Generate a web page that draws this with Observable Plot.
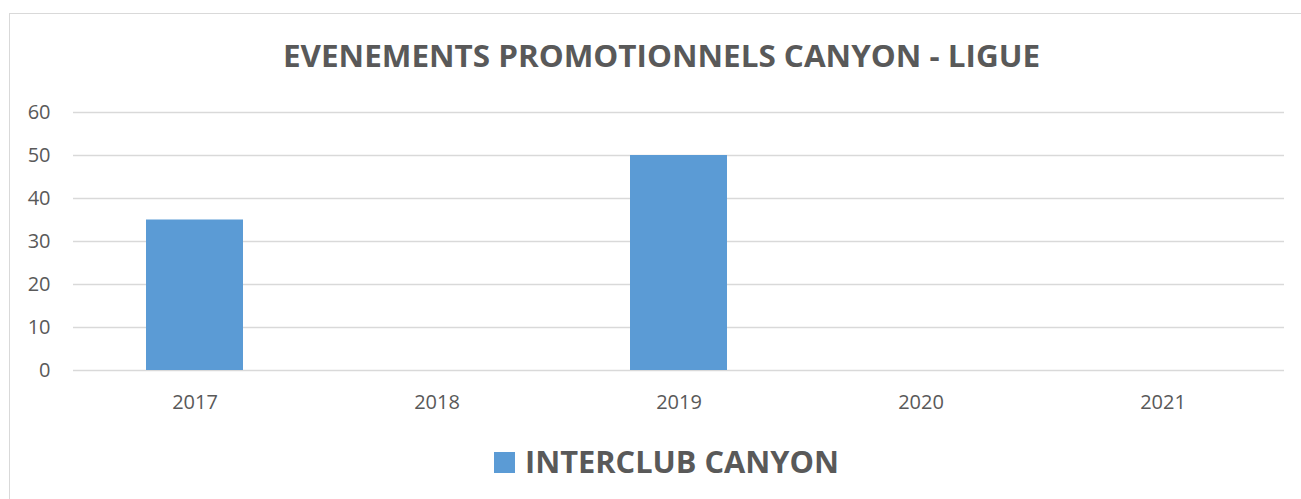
<!DOCTYPE html>
<html>
<head>
<meta charset="utf-8">
<script src="https://cdn.jsdelivr.net/npm/d3@7"></script>
<script src="https://cdn.jsdelivr.net/npm/@observablehq/plot@0.6"></script>
<style>
  html, body { margin: 0; padding: 0; background: #fff; }
  #frame { position: relative; width: 1301px; height: 499px; overflow: hidden; background: #fff; font-family: "Open Sans", sans-serif; }
  #border { position: absolute; left: 9px; top: 13px; width: 1400px; height: 600px; border: 1.3px solid #d9d9d9; box-sizing: border-box; }
  #chart { position: absolute; left: 0; top: 80px; }
  #overlay { position: absolute; left: 0; top: 0; }
</style>
</head>
<body>
<div id="frame">
  <div id="border"></div>
  <div id="chart"></div>
  <svg id="overlay" width="1301" height="499"></svg>
</div>
<script>
const title = "EVENEMENTS PROMOTIONNELS CANYON - LIGUE";
const seriesName = "INTERCLUB CANYON";
const years = ["2017", "2018", "2019", "2020", "2021"];
const values = [35, 0, 50, 0, 0];
const yTicks = [0, 10, 20, 30, 40, 50, 60];

const barColor = "#5b9bd5";
const textColor = "#595959";
const gridColor = "#d9d9d9";

const data = years.map((y, i) => ({year: y, value: values[i]}));

const plot = Plot.plot({
  width: 1301,
  height: 340,
  marginLeft: 73,
  marginRight: 17,
  marginTop: 32,
  marginBottom: 50,
  style: {fontFamily: "Open Sans, sans-serif", fontSize: "20px", color: textColor, background: "transparent"},
  x: {domain: years, paddingInner: 0.6, paddingOuter: 0.3, label: null, tickSize: 0, tickPadding: 24},
  y: {domain: [0, 60], ticks: yTicks, label: null, tickSize: 0, tickPadding: 23},
  marks: [
    Plot.ruleY(yTicks, {stroke: gridColor, strokeWidth: 1.3}),
    Plot.barY(data.filter(d => d.value > 0), {x: "year", y: "value", fill: barColor}),
    Plot.axisX({tickSize: 0, tickPadding: 24, fill: textColor}),
    Plot.axisY({ticks: yTicks, tickSize: 0, tickPadding: 23, fill: textColor})
  ]
});
document.getElementById("chart").appendChild(plot);

const ns = "http://www.w3.org/2000/svg";
const ov = document.getElementById("overlay");
function addText(str, x, y, anchor, size, len) {
  const t = document.createElementNS(ns, "text");
  t.setAttribute("x", x);
  t.setAttribute("y", y);
  t.setAttribute("text-anchor", anchor);
  t.setAttribute("font-family", "Open Sans, sans-serif");
  t.setAttribute("font-weight", "bold");
  t.setAttribute("font-size", size);
  t.setAttribute("fill", textColor);
  t.setAttribute("textLength", len);
  t.setAttribute("lengthAdjust", "spacingAndGlyphs");
  t.textContent = str;
  ov.appendChild(t);
}
addText(title, 283, 67, "start", 29.5, 757);
const sw = document.createElementNS(ns, "rect");
sw.setAttribute("x", 494); sw.setAttribute("y", 452);
sw.setAttribute("width", 21); sw.setAttribute("height", 21);
sw.setAttribute("fill", barColor);
ov.appendChild(sw);
addText(seriesName, 525, 473, "start", 29.5, 314);
</script>
</body>
</html>
